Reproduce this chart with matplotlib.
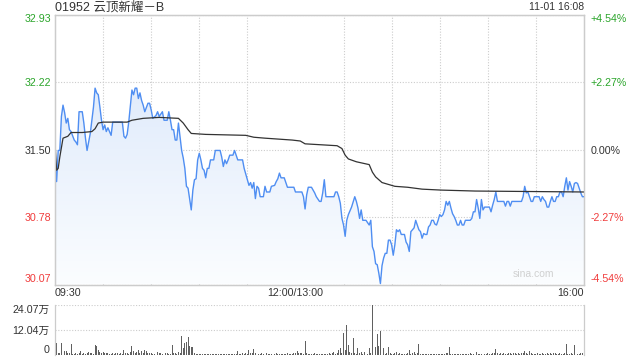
import matplotlib

matplotlib.use("Agg")
import matplotlib.pyplot as plt  # noqa: E402
import numpy as np  # noqa: E402
from matplotlib.colors import LinearSegmentedColormap  # noqa: E402

plt.rcParams["font.family"] = ["Liberation Sans", "Noto Sans CJK SC"]

TITLE = "01952 云顶新耀－B"
STAMP = "11-01 16:08"
PRICE_TICKS = [30.07, 30.78, 31.50, 32.22, 32.93]
PRICE_LABELS = ["30.07", "30.78", "31.50", "32.22", "32.93"]
PCT_LABELS = ["-4.54%", "-2.27%", "0.00%", "+2.27%", "+4.54%"]
TIME_TICKS = [0, 150, 330]
TIME_LABELS = ["09:30", "12:00/13:00", "16:00"]
VOL_TICKS = [0, 12.04, 24.07]
VOL_LABELS = ["0", "12.04万", "24.07万"]

# minutes since 09:30 (lunch break removed) and last price
price_min = [
    0, 1, 2, 3, 4, 5, 6, 7, 8, 9,
    10, 12, 13, 14, 15, 17, 18, 19, 20, 21,
    22, 24, 25, 26, 27, 28, 29, 30, 31, 32,
    33, 35, 36, 42, 43, 44, 45, 46, 48, 49,
    50, 51, 52, 53, 54, 55, 56, 58, 59, 60,
    61, 63, 64, 65, 67, 68, 70, 71, 72, 73,
    74, 75, 76, 77, 79, 80, 81, 82, 83, 85,
    86, 87, 88, 89, 90, 91, 92, 93, 94, 95,
    96, 97, 99, 100, 103, 104, 105, 106, 107, 108,
    109, 111, 112, 113, 114, 117, 118, 120, 121, 122,
    123, 124, 125, 126, 127, 128, 130, 131, 132, 134,
    135, 137, 138, 139, 140, 141, 143, 145, 149, 150,
    154, 155, 156, 157, 158, 160, 162, 163, 165, 166,
    167, 168, 169, 174, 175, 176, 177, 178, 179, 180,
    181, 182, 183, 185, 187, 188, 189, 190, 191, 192,
    194, 196, 197, 198, 199, 200, 201, 202, 203, 204,
    205, 206, 207, 208, 209, 210, 211, 212, 213, 214,
    215, 216, 217, 218, 219, 220, 221, 222, 223, 224,
    225, 226, 227, 228, 229, 230, 231, 232, 233, 234,
    235, 236, 237, 238, 239, 240, 241, 242, 243, 244,
    245, 246, 247, 248, 249, 250, 251, 252, 253, 254,
    255, 256, 257, 258, 259, 260, 261, 262, 263, 264,
    265, 266, 267, 268, 271, 272, 273, 274, 275, 276,
    280, 281, 282, 283, 284, 285, 291, 292, 293, 294,
    295, 296, 297, 298, 299, 300, 301, 302, 303, 304,
    305, 306, 307, 308, 309, 310, 311, 312, 313, 314,
    315, 316, 317, 318, 319, 320, 321, 322, 323, 324,
    325, 326, 327, 328, 329, 330,
]
price = [
    31.45, 31.16, 31.49, 31.49, 31.85, 31.97, 31.89, 31.78, 31.83, 31.71,
    31.69, 31.60, 31.58, 31.55, 31.90, 31.90, 31.78, 31.62, 31.49, 31.58,
    31.67, 31.95, 32.15, 32.10, 32.08, 31.95, 31.81, 31.71, 31.76, 31.69,
    31.73, 31.65, 31.79, 31.79, 31.64, 31.62, 31.66, 31.79, 32.13, 32.08,
    32.15, 32.15, 32.04, 32.10, 32.02, 31.97, 31.90, 31.99, 31.99, 31.92,
    31.83, 31.86, 31.90, 31.85, 31.90, 31.81, 31.81, 31.90, 31.81, 31.71,
    31.71, 31.60, 31.60, 31.78, 31.49, 31.41, 31.30, 31.11, 31.09, 30.86,
    31.07, 31.18, 31.19, 31.39, 31.46, 31.39, 31.30, 31.28, 31.20, 31.30,
    31.30, 31.39, 31.39, 31.49, 31.49, 31.42, 31.32, 31.39, 31.35, 31.39,
    31.44, 31.44, 31.49, 31.44, 31.39, 31.39, 31.30, 31.18, 31.12, 31.15,
    31.09, 31.15, 30.98, 31.11, 31.09, 31.00, 31.00, 31.11, 31.05, 31.05,
    31.11, 31.12, 31.16, 31.19, 31.25, 31.20, 31.20, 31.10, 31.10, 31.05,
    31.05, 31.00, 30.87, 31.02, 31.10, 31.10, 31.04, 31.00, 30.95, 30.95,
    31.04, 31.18, 31.00, 31.00, 31.05, 31.05, 31.00, 30.93, 30.77, 30.70,
    30.58, 30.75, 30.81, 30.89, 31.00, 30.95, 30.88, 30.77, 30.86, 30.75,
    30.75, 30.70, 30.75, 30.47, 30.42, 30.29, 30.28, 30.19, 30.08, 30.27,
    30.35, 30.40, 30.40, 30.54, 30.54, 30.49, 30.38, 30.49, 30.65, 30.63,
    30.65, 30.60, 30.60, 30.60, 30.52, 30.49, 30.42, 30.63, 30.65, 30.67,
    30.75, 30.70, 30.65, 30.63, 30.56, 30.61, 30.60, 30.60, 30.68, 30.70,
    30.75, 30.75, 30.71, 30.70, 30.75, 30.81, 30.79, 30.81, 30.86, 30.95,
    30.91, 30.95, 30.88, 30.82, 30.79, 30.75, 30.70, 30.70, 30.75, 30.70,
    30.70, 30.75, 30.75, 30.75, 30.75, 30.77, 30.84, 30.84, 30.97, 30.88,
    30.77, 30.97, 30.86, 30.89, 30.89, 30.84, 30.91, 30.97, 31.05, 30.95,
    30.95, 30.90, 30.95, 30.95, 30.90, 30.95, 30.95, 31.00, 31.11, 31.04,
    31.05, 31.00, 30.95, 30.95, 31.00, 31.00, 31.00, 31.00, 30.95, 31.00,
    30.97, 30.95, 30.89, 30.89, 30.95, 31.00, 30.95, 30.95, 31.00, 31.00,
    31.05, 31.05, 31.00, 31.11, 31.20, 31.07, 31.16, 31.11, 31.05, 31.14,
    31.15, 31.14, 31.09, 31.04, 31.00, 31.00,
]
assert len(price_min) == len(price)

# running average price
avg_min = [0, 1, 2, 3, 5, 8, 10, 17, 23, 25, 27, 30, 45, 48, 55, 65, 77, 80,
           83, 85, 94, 119, 124, 131, 148, 153, 156, 176, 179, 181, 183, 188,
           196, 198, 200, 202, 204, 212, 220, 229, 241, 262, 330]
avg_price = [31.57, 31.28, 31.30, 31.42, 31.62, 31.64, 31.68, 31.68, 31.69,
             31.72, 31.78, 31.79, 31.79, 31.81, 31.83, 31.84, 31.83, 31.78,
             31.71, 31.67, 31.66, 31.65, 31.63, 31.62, 31.60, 31.59, 31.56,
             31.54, 31.51, 31.44, 31.40, 31.37, 31.34, 31.26, 31.21, 31.18,
             31.15, 31.11, 31.10, 31.08, 31.07, 31.06, 31.05]

# volume per minute, in 万 shares, 09:30 .. 16:00
volume = [
    1.5, 5.6, 1.0, 1.2, 5.6, 5.1, 1.9, 1.9, 1.0, 0.8,
    5.1, 0.6, 0.5, 0.8, 0.6, 1.2, 1.9, 0.6, 0.8, 0.7,
    1.0, 1.6, 1.0, 0.8, 0.6, 4.8, 4.3, 2.4, 1.6, 0.8,
    1.6, 1.0, 0.8, 1.2, 0.6, 0.6, 0.8, 0.5, 1.0, 1.0,
    0.6, 0.8, 0.6, 2.4, 1.0, 1.2, 0.6, 1.6, 4.3, 1.9,
    1.2, 1.6, 2.4, 1.2, 1.9, 0.8, 2.4, 1.9, 1.0, 0.8,
    1.2, 0.6, 0.6, 2.4, 1.6, 0.8, 1.0, 0.6, 0.5, 0.8,
    1.0, 0.6, 0.6, 4.8, 0.8, 1.0, 0.6, 1.6, 1.0, 9.1,
    3.2, 5.6, 6.4, 8.8, 4.3, 4.0, 4.0, 0.8, 0.6, 0.5,
    0.5, 0.4, 0.5, 0.6, 0.4, 0.5, 0.4, 0.5, 0.5, 0.4,
    0.5, 0.4, 0.5, 0.4, 0.6, 0.5, 0.4, 0.5, 0.4, 0.5,
    0.5, 0.4, 0.6, 0.5, 1.9, 0.5, 0.4, 0.8, 0.6, 1.0,
    0.6, 2.4, 1.0, 0.8, 2.9, 1.2, 0.8, 0.6, 0.5, 0.8,
    0.6, 0.5, 0.8, 0.6, 0.5, 0.6, 0.4, 0.6, 0.8, 0.5,
    0.6, 0.5, 0.4, 0.6, 0.5, 0.8, 0.6, 0.5, 0.4, 1.2,
    0.8, 1.9, 1.2, 0.8, 1.0, 0.6, 6.9, 0.8, 0.6, 0.5,
    0.6, 0.5, 0.8, 0.6, 0.5, 0.4, 0.6, 0.5, 0.6, 0.5,
    0.6, 1.0, 0.5, 0.8, 1.6, 0.6, 1.0, 2.4, 3.2, 0.8,
    10.7, 2.4, 14.4, 4.8, 1.6, 0.8, 8.0, 0.8, 0.6, 3.2,
    0.8, 1.6, 0.6, 1.6, 0.8, 0.6, 3.2, 0.8, 24.07, 8.0,
    4.0, 10.1, 4.3, 11.7, 0.8, 3.2, 0.6, 1.0, 4.0, 0.8,
    0.6, 0.5, 0.8, 1.6, 0.6, 0.8, 0.5, 0.6, 0.4, 0.5,
    0.8, 2.4, 0.6, 0.8, 1.6, 0.6, 1.0, 5.3, 0.6, 0.5,
    0.4, 0.5, 0.6, 0.4, 0.5, 0.6, 0.4, 0.5, 0.5, 0.6,
    0.5, 0.4, 0.6, 0.5, 0.8, 1.0, 3.7, 0.5, 0.4, 0.5,
    0.4, 0.5, 0.4, 0.5, 0.6, 0.5, 0.4, 0.6, 0.5, 0.8,
    0.5, 0.6, 0.8, 1.6, 0.5, 0.6, 0.4, 0.6, 0.5, 0.6,
    0.8, 0.5, 0.6, 0.8, 1.0, 2.7, 0.8, 0.6, 1.0, 0.6,
    0.8, 0.6, 0.5, 0.8, 1.0, 0.6, 1.2, 0.8, 0.6, 1.2,
    0.6, 0.8, 1.0, 2.0, 0.8, 0.6, 2.0, 0.8, 0.6, 0.5,
    0.6, 0.8, 0.5, 0.6, 0.8, 0.5, 0.6, 1.0, 0.6, 0.8,
    0.5, 0.8, 1.0, 0.6, 0.5, 0.8, 0.6, 0.5, 0.8, 5.3,
    0.6, 0.5, 0.8, 0.6, 4.8, 0.6, 0.5, 0.6, 0.8, 1.0,
    2.4,
]

GREEN = "#2aa52a"
RED = "#f03c3c"
DARK = "#333333"
FRAME = "#cccccc"
LINE = "#4f8ef2"
FS = 7.7

fig = plt.figure(figsize=(6.4, 3.6), dpi=100)
ax = fig.add_axes([55 / 640, 1 - 284.5 / 360, 529 / 640, 270 / 360])
vax = fig.add_axes([55 / 640, 1 - 355 / 360, 529 / 640, 50 / 360])

lo, hi = PRICE_TICKS[0], PRICE_TICKS[-1]
ax.set_xlim(0, 330)
ax.set_ylim(lo, hi)

# gradient fill under the price line
poly = ax.fill_between(price_min, price, lo, facecolor="none", edgecolor="none")
cmap = LinearSegmentedColormap.from_list("fade", ["#fbfdff", "#d7e5fa"])
grad = np.linspace(0, 1, 256).reshape(-1, 1)
im = ax.imshow(grad, extent=[0, 330, lo, hi], origin="lower", aspect="auto",
               cmap=cmap, zorder=1)
im.set_clip_path(poly.get_paths()[0], transform=ax.transData)

ax.plot(price_min, price, color=LINE, lw=1.0, zorder=3)
ax.plot(avg_min, avg_price, color=DARK, lw=0.9, zorder=4)

# grid
ax.set_xticks(np.arange(0, 331, 30), minor=True)
ax.grid(which="minor", axis="x", color=FRAME, ls=(0, (1, 1.5)), lw=0.8)
ax.set_yticks(PRICE_TICKS)
ax.grid(which="major", axis="y", color=FRAME, ls=(0, (1, 1.5)), lw=0.8)
ax.set_axisbelow(True)

ax.set_xticks(TIME_TICKS)
ax.set_xticklabels(TIME_LABELS, fontsize=FS, color=DARK)
xl = ax.get_xticklabels()
xl[0].set_ha("left")
xl[-1].set_ha("right")

ax.set_yticklabels(PRICE_LABELS, fontsize=FS)
price_colors = [RED, RED, DARK, GREEN, GREEN]
for lab, c in zip(ax.get_yticklabels(), price_colors):
    lab.set_color(c)
yl = ax.get_yticklabels()
yl[0].set_va("bottom")
yl[-1].set_va("top")
ax.tick_params(axis="both", which="both", length=0)
ax.tick_params(axis="y", pad=3)
ax.tick_params(axis="x", pad=2.5)

tw = ax.twinx()
tw.set_ylim(lo, hi)
tw.set_yticks(PRICE_TICKS)
tw.set_yticklabels(PCT_LABELS, fontsize=FS)
for lab, c in zip(tw.get_yticklabels(), price_colors):
    lab.set_color(c)
tl = tw.get_yticklabels()
tl[0].set_va("bottom")
tl[-1].set_va("top")
tw.tick_params(axis="y", length=0, pad=5)

for a in (ax, tw):
    for s in a.spines.values():
        s.set_color(FRAME)
        s.set_linewidth(0.9)

ax.text(0.905, 0.022, "sina.com", transform=ax.transAxes, ha="center",
        va="bottom", fontsize=7.5, color="#d0d0d0")

fig.text(55 / 640, 1 - 7 / 360, TITLE, ha="left", va="center",
         fontsize=9, color=DARK)
fig.text(584 / 640, 1 - 7 / 360, STAMP, ha="right", va="center",
         fontsize=7.5, color=DARK)

# volume panel
vmin = np.arange(len(volume))
vax.bar(vmin, volume, width=0.6, color="#606060", linewidth=0)
vax.set_xlim(0, 330)
vax.set_ylim(VOL_TICKS[0], VOL_TICKS[-1])
vax.set_xticks([])
vax.set_yticks(VOL_TICKS)
vax.set_yticklabels(VOL_LABELS, fontsize=FS, color=DARK)
vl = vax.get_yticklabels()
vl[0].set_va("bottom")
vl[-1].set_va("top")
vax.tick_params(axis="y", length=0, pad=4)
for v in VOL_TICKS[1:]:
    vax.axhline(v, color=FRAME, ls=(0, (1, 1.5)), lw=0.8, zorder=0)
for side in ("top", "bottom"):
    vax.spines[side].set_visible(False)
for side in ("left", "right"):
    vax.spines[side].set_color(FRAME)
    vax.spines[side].set_linewidth(0.9)

fig.savefig("out.png", dpi=100, facecolor="white")
